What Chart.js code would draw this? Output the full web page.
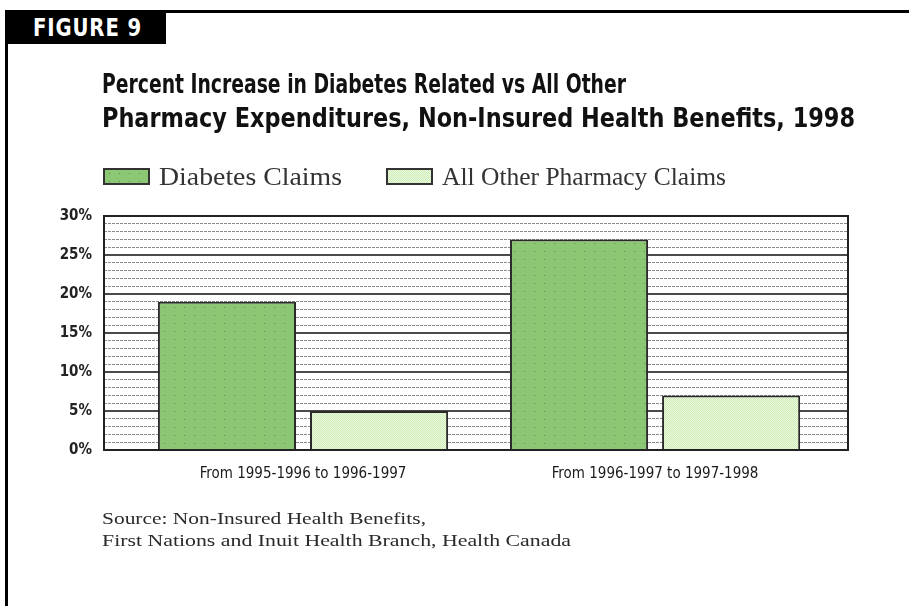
<!DOCTYPE html>
<html><head><meta charset="utf-8">
<script src="https://cdn.jsdelivr.net/npm/chart.js@4.4.1/dist/chart.umd.min.js"></script>
<style>
html,body{margin:0;padding:0;background:#fff;}
#wrap{position:relative;width:909px;height:606px;overflow:hidden;background:#fff;}
#c{position:absolute;left:0;top:0;}
.abs{position:absolute;white-space:nowrap;transform-origin:0 0;}
.cond{font-family:"Liberation Sans Narrow","DejaVu Sans Condensed","Roboto Condensed","Liberation Sans",sans-serif;}
.serif{font-family:"Palatino Linotype","Book Antiqua",Palatino,"Liberation Serif","DejaVu Serif",serif;}
.lbox{position:absolute;box-sizing:border-box;border:2px solid #333;}
</style></head>
<body><div id="wrap">
<canvas id="c" width="909" height="606"></canvas>
<div class="abs" style="left:166px;top:10px;width:743px;height:3px;background:#000"></div>
<div class="abs" style="left:6px;top:10px;width:160px;height:34px;background:#000"></div>
<div class="abs" style="left:5px;top:10px;width:3px;height:596px;background:#000"></div>
<div class="abs cond fit" data-w="109" style="left:33px;top:15px;color:#fff;font-weight:bold;font-size:25px;line-height:25px;letter-spacing:1px">FIGURE 9</div>
<div class="abs cond fit" data-w="524" style="left:102px;top:70px;color:#111;font-weight:bold;font-size:27px;line-height:27px">Percent Increase in Diabetes Related vs All Other</div>
<div class="abs cond fit" data-w="753" style="left:102px;top:104px;color:#111;font-weight:bold;font-size:27px;line-height:27px">Pharmacy Expenditures, Non-Insured Health Benefits, 1998</div>
<div id="lb0" class="lbox" style="left:103px;top:168px;width:47px;height:17px"></div>
<div id="lt0" class="abs serif fit" data-w="183" style="left:159px;top:164px;color:#333;font-size:26px;line-height:26px"></div>
<div id="lb1" class="lbox" style="left:386px;top:168px;width:47px;height:17px"></div>
<div id="lt1" class="abs serif fit" data-w="284" style="left:442px;top:164px;color:#333;font-size:26px;line-height:26px"></div>
<div class="abs serif fit" data-w="324" style="left:102px;top:510px;color:#2a2a2a;font-size:17px;line-height:17px">Source: Non-Insured Health Benefits,</div>
<div class="abs serif fit" data-w="469" style="left:102px;top:532px;color:#2a2a2a;font-size:17px;line-height:17px">First Nations and Inuit Health Branch, Health Canada</div>
</div>
<script>
// ---- data ----
const categories = ["From 1995-1996 to 1996-1997", "From 1996-1997 to 1997-1998"];
const seriesNames = ["Diabetes Claims", "All Other Pharmacy Claims"];
const diabetesClaims = [19, 27];
const otherClaims = [5, 7];
const yLabelTicks = [0, 5, 10, 15, 20, 25, 30];

const condFont = '"Liberation Sans Narrow","DejaVu Sans Condensed","Roboto Condensed","Liberation Sans",sans-serif';

function makePattern(w, h, draw) {
  const c = document.createElement('canvas'); c.width = w; c.height = h;
  draw(c.getContext('2d')); return c;
}
const dotCanvas = makePattern(10, 8, g => {
  g.fillStyle = '#8cc873'; g.fillRect(0, 0, 10, 8);
  g.fillStyle = '#62895a'; g.fillRect(4, 3, 1, 1);
});
const checkCanvas = makePattern(2, 2, g => {
  g.fillStyle = '#eef9e4'; g.fillRect(0, 0, 2, 2);
  g.fillStyle = '#cbecb3'; g.fillRect(0, 0, 1, 1); g.fillRect(1, 1, 1, 1);
});
const ctx = document.getElementById('c').getContext('2d');
const dotPat = ctx.createPattern(dotCanvas, 'repeat');
const checkPat = ctx.createPattern(checkCanvas, 'repeat');

document.getElementById('lb0').style.backgroundImage = 'url(' + dotCanvas.toDataURL() + ')';
document.getElementById('lb1').style.backgroundImage = 'url(' + checkCanvas.toDataURL() + ')';
document.getElementById('lt0').textContent = seriesNames[0];
document.getElementById('lt1').textContent = seriesNames[1];

document.querySelectorAll('.fit').forEach(el => {
  const w = el.getBoundingClientRect().width;
  const t = parseFloat(el.dataset.w);
  if (w > 0) el.style.transform = 'scaleX(' + (t / w) + ')';
});

const frame = {
  id: 'frame',
  afterDatasetsDraw(chart) {
    const { ctx, chartArea: a } = chart;
    ctx.save();
    ctx.strokeStyle = '#222'; ctx.lineWidth = 2;
    ctx.strokeRect(a.left, a.top, a.right - a.left, a.bottom - a.top);
    ctx.restore();
  }
};

new Chart(ctx, {
  type: 'bar',
  data: {
    datasets: [
      { label: seriesNames[0], data: diabetesClaims.map((v, i) => ({ x: i, y: v })),
        backgroundColor: dotPat, borderColor: '#2a2a2a', borderWidth: 2 },
      { label: seriesNames[1], data: otherClaims.map((v, i) => ({ x: i, y: v })),
        backgroundColor: checkPat, borderColor: '#2a2a2a', borderWidth: 2 }
    ]
  },
  options: {
    responsive: false, animation: false, devicePixelRatio: 1,
    categoryPercentage: 0.864, barPercentage: 0.908,
    layout: { padding: { left: 0, right: 61, top: 216, bottom: 0 } },
    plugins: { legend: { display: false }, title: { display: false }, tooltip: { enabled: false } },
    scales: {
      x: {
        type: 'linear', min: -0.5653, max: 1.548, offset: false,
        grid: { display: false, drawTicks: false }, border: { display: false },
        afterBuildTicks: s => { s.ticks = categories.map((_, i) => ({ value: i })); },
        ticks: { autoSkip: false, maxRotation: 0, minRotation: 0, padding: 15, color: '#1a1a1a',
          font: { family: condFont, size: 15 },
          callback: v => categories[v] !== undefined ? categories[v] : '' },
        afterFit: s => { s.height = 156; }
      },
      y: {
        min: 0, max: 30,
        ticks: { stepSize: 1, autoSkip: false, padding: 12, color: '#222',
          font: { family: condFont, size: 15, weight: 'bold' },
          callback: v => yLabelTicks.includes(v) ? v + '%' : '' },
        grid: { drawTicks: false,
          color: c => (c.tick && c.tick.value % 5 === 0) ? '#4a4a4a' : '#8a8a8a',
          lineWidth: c => (c.tick && c.tick.value % 5 === 0) ? 2 : 1 },
        border: { display: false, dash: c => (c.tick && c.tick.value % 5 !== 0) ? [3, 1] : [] },
        afterFit: s => { s.width = 104; }
      }
    }
  },
  plugins: [frame]
});
</script>
</body></html>
